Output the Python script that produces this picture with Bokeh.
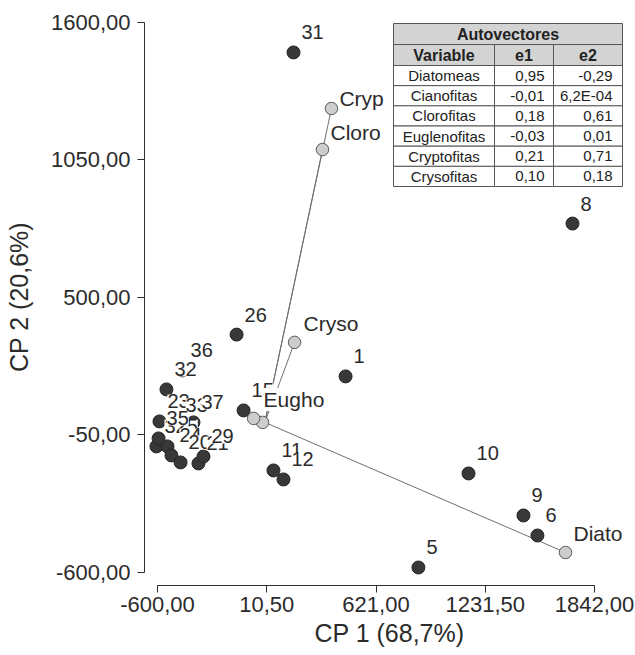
from bokeh.plotting import figure
from bokeh.models import (Range1d, LinearAxis, FixedTicker, ColumnDataSource,
                          LabelSet, Label, BoxAnnotation)
from bokeh.core.properties import value
from bokeh.embed import file_html
from bokeh.resources import INLINE

# ---------------- data ----------------
sample_ids = ["31", "8", "26", "1", "10", "9", "6", "5", "11", "12", "15",
              "36", "32", "23", "33", "37", "34", "25", "24", "35", "20", "21", "29"]
sample_x = [160, 1719, -158, 451, 1138, 1445, 1523, 858, 48, 104, -119,
            -460, -550, -589, -488, -399, -606, -544, -522, -594, -471, -371, -343]
sample_y = [1479, 795, 351, 184, -204, -372, -452, -580, -192, -228, 48,
            208, 132, 4, -12, 0, -96, -96, -132, -64, -160, -164, -136]

var_names = ["Diato", "Ciano", "Cloro", "Eugho", "Cryp", "Cryso"]
var_x = [1680, -13, 322, -63, 372, 166]
var_y = [-520, 0, 1091, 16, 1255, 320]

x_ticks = [-600, 10.5, 621, 1231.5, 1842]
x_tick_labels = ["-600,00", "10,50", "621,00", "1231,50", "1842,00"]
y_ticks = [-600, -50, 500, 1050, 1600]
y_tick_labels = ["-600,00", "-50,00", "500,00", "1050,00", "1600,00"]
x_title = "CP 1 (68,7%)"
y_title = "CP 2 (20,6%)"

tab_title = "Autovectores"
tab_header = ["Variable", "e1", "e2"]
tab_vars = ["Diatomeas", "Cianofitas", "Clorofitas", "Euglenofitas", "Cryptofitas", "Crysofitas"]
tab_e1 = ["0,95", "-0,01", "0,18", "-0,03", "0,21", "0,10"]
tab_e2 = ["-0,29", "6,2E-04", "0,61", "0,01", "0,71", "0,18"]

# ---------------- styles ----------------
FONT = "Liberation Sans"
TXT = "#2b2b2b"
AX = "#2e2e2e"

p = figure(frame_width=490, frame_height=577,
           x_range=Range1d(-672.65, 2065.5), y_range=Range1d(-651.97, 1654.7),
           output_backend="svg", toolbar_location=None,
           x_axis_type=None, y_axis_type=None,
           min_border_left=144, min_border_right=0,
           min_border_top=8, min_border_bottom=66)
p.outline_line_color = None
p.background_fill_color = "white"

def style_axis(ax):
    ax.axis_line_color = AX
    ax.axis_line_width = 1
    ax.major_tick_line_color = AX
    ax.major_tick_out = 7
    ax.major_tick_in = 0
    ax.minor_tick_line_color = None
    ax.major_label_text_font = FONT
    ax.major_label_text_font_size = "22px"
    ax.major_label_text_color = TXT
    ax.axis_label_text_font = FONT
    ax.axis_label_text_font_size = "25px"
    ax.axis_label_text_font_style = "normal"
    ax.axis_label_text_color = TXT

xaxis = LinearAxis(ticker=FixedTicker(ticks=x_ticks), bounds=(-600, 1842),
                   major_label_overrides=dict(zip(x_ticks, x_tick_labels)),
                   axis_label=x_title)
style_axis(xaxis)
xaxis.major_label_standoff = 4
xaxis.axis_label_standoff = 4
p.add_layout(xaxis, "below")

yaxis = LinearAxis(ticker=FixedTicker(ticks=y_ticks), bounds=(-600, 1600),
                   major_label_overrides=dict(zip(y_ticks, y_tick_labels)),
                   axis_label=y_title)
style_axis(yaxis)
yaxis.major_label_standoff = 7
yaxis.axis_label_standoff = 15
p.add_layout(yaxis, "left")

# vectors
vsrc = ColumnDataSource(dict(x0=[0] * len(var_x), y0=[0] * len(var_y), x=var_x, y=var_y,
                             name=[n if n != "Ciano" else "" for n in var_names],
                             dx=[8, 8, 8, 10, 8, 9], dy=[19, 19, 17, 19, 10, 19]))
p.segment(x0="x0", y0="y0", x1="x", y1="y", source=vsrc, line_color="#707070", line_width=1)

# samples
ssrc = ColumnDataSource(dict(x=sample_x, y=sample_y, id=sample_ids))
p.scatter("x", "y", source=ssrc, size=13, fill_color="#383838", line_color="#262626", line_width=1)

# variable points
p.scatter("x", "y", source=vsrc, size=12.5, fill_color="#cdcdcd", line_color="#5a5a5a", line_width=1)

slabels = LabelSet(x="x", y="y", text="id", source=ssrc, x_offset=8, y_offset=20,
                   text_align="left", text_baseline="middle",
                   text_font=value(FONT), text_font_size="20px", text_color=TXT,
                   background_fill_color="white", background_fill_alpha=1.0)
p.add_layout(slabels)

vlabels = LabelSet(x="x", y="y", text="name", source=vsrc, x_offset="dx", y_offset="dy",
                   text_align="left", text_baseline="middle",
                   text_font=value(FONT), text_font_size="21px", text_color=TXT,
                   background_fill_color="white", background_fill_alpha=1.0)
p.add_layout(vlabels)

# ---------------- table (screen units, frame-relative) ----------------
L, C1, C2, R = 249, 350, 409, 478
TOPS = [562, 541, 520]
ROW_H = 20.17
LINE = "#555555"
GREY = "#d3d3d3"

def box(l, r, t, b, fill):
    p.add_layout(BoxAnnotation(left=l, right=r, top=t, bottom=b,
                               left_units="screen", right_units="screen",
                               top_units="screen", bottom_units="screen",
                               fill_color=fill, fill_alpha=1.0,
                               line_color=LINE, line_width=1, line_alpha=1.0))

box(L, R, TOPS[0], TOPS[1], GREY)
for (l, r) in [(L, C1), (C1, C2), (C2, R)]:
    box(l, r, TOPS[1], TOPS[2], GREY)
row_t = [TOPS[2] - i * ROW_H for i in range(len(tab_vars))]
for t in row_t:
    for (l, r) in [(L, C1), (C1, C2), (C2, R)]:
        box(l, r, t, t - ROW_H, "white")

def lab(x, y, text, align="center", bold=False, size="15px"):
    p.add_layout(Label(x=x, y=y, x_units="screen", y_units="screen", text=text,
                       text_align=align, text_baseline="middle",
                       text_font=FONT, text_font_size=size, text_color="#222222",
                       text_font_style="bold" if bold else "normal"))

lab((L + R) / 2, (TOPS[0] + TOPS[1]) / 2, tab_title, bold=True, size="16px")
hy = (TOPS[1] + TOPS[2]) / 2
lab((L + C1) / 2, hy, tab_header[0], bold=True, size="16px")
lab((C1 + C2) / 2, hy, tab_header[1], bold=True, size="16px")
lab((C2 + R) / 2, hy, tab_header[2], bold=True, size="16px")
for i, t in enumerate(row_t):
    cy = t - ROW_H / 2
    lab((L + C1) / 2, cy, tab_vars[i])
    lab(C2 - 9, cy, tab_e1[i], align="right")
    lab(R - 10, cy, tab_e2[i], align="right")

open("out.html", "w").write(file_html(p, INLINE))
